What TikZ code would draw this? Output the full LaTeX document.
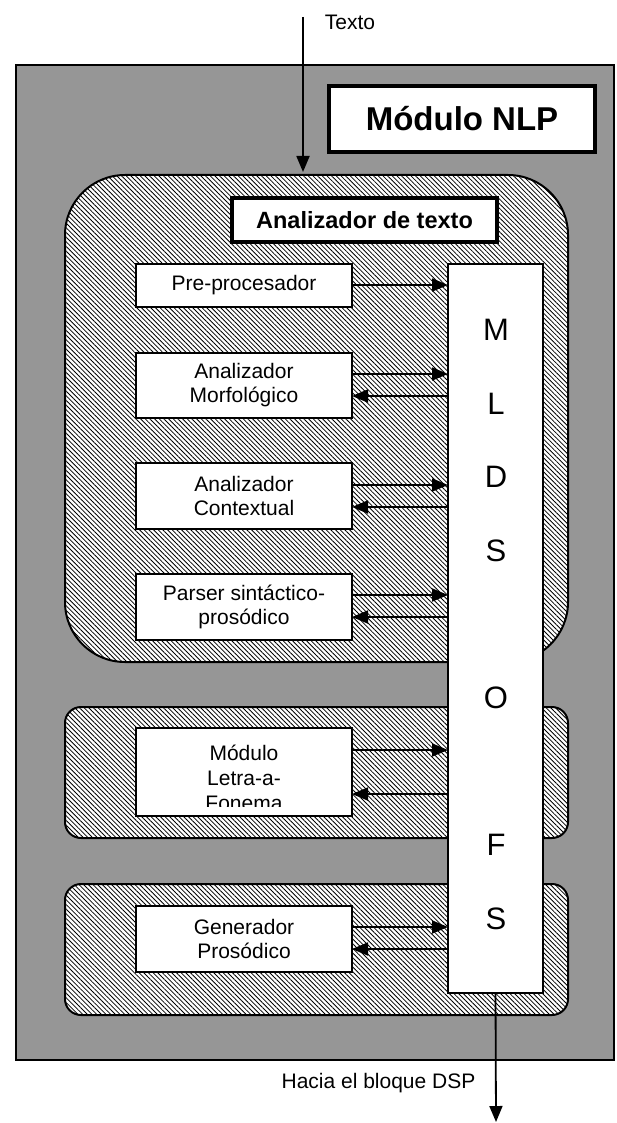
\documentclass[tikz,border=0pt]{standalone}
\usepackage{fontspec}
\setmainfont{Liberation Sans}
\usetikzlibrary{arrows.meta,patterns.meta}
\definecolor{bggray}{RGB}{150,150,150}
\tikzset{
  region/.style={draw, line width=2pt, preaction={fill=white},
    pattern={Lines[angle=-45,distance=3.3pt,line width=0.8pt]}, pattern color=black,
    inner sep=0pt, outer sep=0pt},
  wbox/.style={draw, line width=2pt, fill=white, inner sep=0pt, outer sep=0pt,
    align=center, font=\fontsize{21}{24}\selectfont},
  titlebox/.style={draw, fill=white, inner sep=0pt, outer sep=0pt, font=\bfseries},
  lbl/.style={inner sep=0pt, font=\fontsize{21}{24}\selectfont},
  bigletter/.style={inner sep=0pt, font=\fontsize{31}{31}\selectfont},
  arr/.style={-{Triangle[length=16pt,width=13pt]}, line width=1.8pt},
}
\begin{document}
\begin{tikzpicture}[x=1pt,y=-1pt]
\useasboundingbox (0,0) rectangle (616,1123);
\fill[white] (0,0) rectangle (616,1123);
% outer gray block
\node[draw, line width=1.5pt, fill=bggray, inner sep=0pt, outer sep=0pt,
  minimum width=598pt, minimum height=995pt] (outer) at (315,562.5) {};
% hatched regions
\node[region, rounded corners=60pt, minimum width=503pt, minimum height=487pt] (r1) at (316.5,418.5) {};
\node[region, rounded corners=16pt, minimum width=503pt, minimum height=131pt] (r2) at (316.5,772.5) {};
\node[region, rounded corners=16pt, minimum width=503pt, minimum height=131pt] (r3) at (316.5,949.5) {};
% titles
\node[titlebox, line width=4pt, minimum width=266pt, minimum height=66pt,
  font=\bfseries\fontsize{33}{34}\selectfont] (nlp) at (462,119) {Módulo NLP};
\node[titlebox, line width=3.5pt, minimum width=265pt, minimum height=44pt,
  font=\bfseries\fontsize{23.5}{24}\selectfont] (atx) at (364.5,220) {Analizador de texto};
% module boxes
\node[wbox, minimum width=216pt, minimum height=43pt] (pre) at (244,285.5) {Pre-procesador};
\node[wbox, minimum width=216pt, minimum height=65pt] (morf) at (244,385.5) {Analizador\\Morfológico};
\node[wbox, minimum width=216pt, minimum height=66pt] (cont) at (244,496) {Analizador\\Contextual};
\node[wbox, minimum width=216pt, minimum height=66pt] (pars) at (244,607) {Parser sintáctico-\\prosódico};
\node[wbox, minimum width=216pt, minimum height=88pt] (letra) at (244,772) {};
\begin{scope}
  \clip (letra.north west) rectangle ([yshift=10pt]letra.south east);
  \node[lbl, align=center, font=\fontsize{21}{25}\selectfont] (letratxt) at (244,778) {Módulo\\Letra-a-\\Fonema};
\end{scope}
\node[wbox, minimum width=216pt, minimum height=66pt] (gen) at (244,939) {Generador\\Prosódico};
% MLDSOFS column
\node[wbox, minimum width=95pt, minimum height=729pt] (mld) at (495.5,628.5) {};
\node[bigletter] (lM) at (496,330) {M};
\node[bigletter] (lL) at (496,404) {L};
\node[bigletter] (lD) at (496,477) {D};
\node[bigletter] (lS) at (496,551) {S};
\node[bigletter] (lO) at (496,698) {O};
\node[bigletter] (lF) at (496,845) {F};
\node[bigletter] (lS2) at (496,919) {S};
% connectors
\draw[arr] (pre.east |- 0,285) -- (mld.west |- 0,285);
\draw[arr] (morf.east |- 0,374) -- (mld.west |- 0,374);
\draw[arr] (mld.west |- 0,396) -- (morf.east |- 0,396);
\draw[arr] (cont.east |- 0,485) -- (mld.west |- 0,485);
\draw[arr] (mld.west |- 0,507) -- (cont.east |- 0,507);
\draw[arr] (pars.east |- 0,595) -- (mld.west |- 0,595);
\draw[arr] (mld.west |- 0,617) -- (pars.east |- 0,617);
\draw[arr] (letra.east |- 0,750) -- (mld.west |- 0,750);
\draw[arr] (mld.west |- 0,794) -- (letra.east |- 0,794);
\draw[arr] (gen.east |- 0,927) -- (mld.west |- 0,927);
\draw[arr] (mld.west |- 0,949) -- (gen.east |- 0,949);
% input / output
\coordinate (intop) at (303,17);
\node[lbl] (texto) at (350,22) {Texto};
\draw[arr] (intop) -- ([yshift=3pt]intop |- r1.north);
\coordinate (outbot) at (496,1122);
\node[lbl] (hacia) at (378.5,1083) {Hacia el bloque DSP};
\draw[arr] (mld.south) -- (outbot);
\end{tikzpicture}
\end{document}
